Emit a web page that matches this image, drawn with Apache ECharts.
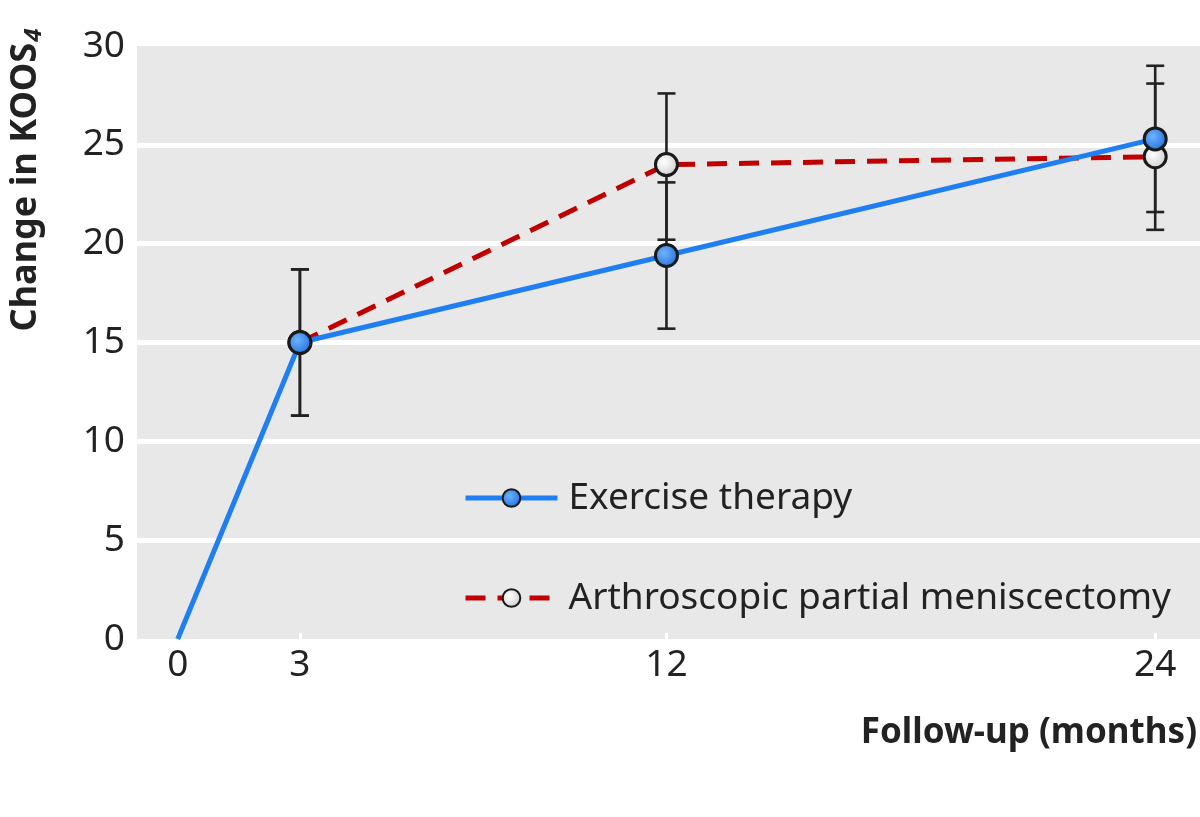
<!DOCTYPE html>
<html>
<head>
<meta charset="utf-8">
<script src="https://cdn.jsdelivr.net/npm/echarts@6/dist/echarts.min.js"></script>
<style>
  html, body { margin: 0; padding: 0; background: #fff; }
  #main { width: 1200px; height: 817px; }
</style>
</head>
<body>
<div id="main"></div>
<script>
// follow-up months and change in KOOS4
var months = [0, 3, 12, 24];
var exercise = [0, 15.0, 19.4, 25.3];
var exerciseLow = [null, 11.3, 15.7, 21.6];
var exerciseHigh = [null, 18.7, 23.1, 29.0];
var apm = [null, 15.0, 24.0, 24.4];
var apmLow = [null, 11.3, 20.2, 20.7];
var apmHigh = [null, 18.7, 27.6, 28.1];
var xTicks = [0, 3, 12, 24];

var FONT = '"Noto Sans", sans-serif';

function pts(vals) {
    var out = [];
    for (var i = 0; i < months.length; i++) {
        if (vals[i] === null) { out.push([months[i], null]); continue; }
        // no marker at the origin
        if (months[i] === 0) out.push({ value: [months[i], vals[i]], symbol: 'none' });
        else out.push([months[i], vals[i]]);
    }
    return out;
}
function bars(lo, hi) {
    var out = [];
    for (var i = 0; i < months.length; i++) {
        if (lo[i] !== null) out.push([months[i], lo[i], hi[i]]);
    }
    return out;
}
function renderBar(params, api) {
    var x = api.value(0);
    var top = api.coord([x, api.value(2)]);
    var bot = api.coord([x, api.value(1)]);
    var w = 9;
    var st = { stroke: '#222', lineWidth: 2.6, fill: null };
    return {
        type: 'group',
        children: [
            { type: 'line', shape: { x1: top[0], y1: top[1], x2: bot[0], y2: bot[1] }, style: st },
            { type: 'line', shape: { x1: top[0] - w, y1: top[1], x2: top[0] + w, y2: top[1] }, style: st },
            { type: 'line', shape: { x1: bot[0] - w, y1: bot[1], x2: bot[0] + w, y2: bot[1] }, style: st }
        ]
    };
}

var blueFill = new echarts.graphic.RadialGradient(0.4, 0.4, 0.7, [
    { offset: 0, color: '#6db4ff' }, { offset: 1, color: '#1a66d8' }
]);
var whiteFill = new echarts.graphic.RadialGradient(0.4, 0.4, 0.7, [
    { offset: 0, color: '#ffffff' }, { offset: 1, color: '#c8c8c8' }
]);

var chart = echarts.init(document.getElementById('main'));
chart.setOption({
    animation: false,
    grid: {
        left: 137, top: 46, right: 0, bottom: 178,
        show: true, backgroundColor: '#e8e8e8', borderWidth: 0
    },
    legend: {
        orient: 'vertical',
        left: 458, top: 471,
        itemWidth: 92, itemHeight: 22, itemGap: 56,
        lineStyle: { width: 5 },
        textStyle: { fontFamily: FONT, fontSize: 37, color: '#222', lineHeight: 44, padding: [0, 0, 0, 6] },
        data: ['Exercise therapy', 'Arthroscopic partial meniscectomy']
    },
    xAxis: {
        type: 'value', min: -1, max: 25.1,
        axisLine: { show: false },
        axisTick: { show: true, inside: true, length: 6, customValues: xTicks, lineStyle: { color: '#fff', width: 3 } },
        axisLabel: { customValues: xTicks, fontFamily: FONT, fontSize: 37, color: '#222', margin: 8 },
        splitLine: { show: false }
    },
    yAxis: {
        type: 'value', min: 0, max: 30, interval: 5,
        axisLine: { show: false },
        axisTick: { show: false },
        axisLabel: { fontFamily: FONT, fontSize: 37, color: '#222', margin: 12 },
        splitLine: { show: true, showMinLine: false, showMaxLine: false, lineStyle: { color: '#fff', width: 5 } }
    },
    graphic: [
        {
            type: 'text', x: 26, y: 180, rotation: Math.PI / 2,
            style: {
                text: '{a|Change in KOOS}{s|4}',
                align: 'center', verticalAlign: 'middle',
                rich: {
                    a: { fontFamily: FONT, fontSize: 36, fontWeight: 'bold', fill: '#222' },
                    s: { fontFamily: FONT, fontSize: 24, fontStyle: 'italic', fontWeight: 'bold', fill: '#222', padding: [16, 0, 0, 1] }
                }
            }
        },
        {
            type: 'text', right: 3, top: 716,
            style: { text: 'Follow-up (months)', fontFamily: FONT, fontSize: 35, fontWeight: 'bold', fill: '#222' }
        }
    ],
    series: [
        {
            type: 'custom', name: 'apmBars', z: 1, silent: true,
            renderItem: renderBar, data: bars(apmLow, apmHigh)
        },
        {
            type: 'custom', name: 'exBars', z: 1, silent: true,
            renderItem: renderBar, data: bars(exerciseLow, exerciseHigh)
        },
        {
            name: 'Arthroscopic partial meniscectomy',
            type: 'line', z: 3,
            data: pts(apm),
            symbol: 'circle', symbolSize: 22,
            lineStyle: { color: '#c00000', width: 5, type: [20, 12] },
            itemStyle: { color: whiteFill, borderColor: '#1a1a1a', borderWidth: 3 }
        },
        {
            name: 'Exercise therapy',
            type: 'line', z: 4,
            data: pts(exercise),
            symbol: 'circle', symbolSize: 22,
            lineStyle: { color: '#1f7ff2', width: 5 },
            itemStyle: { color: blueFill, borderColor: '#1a1a1a', borderWidth: 3 }
        }
    ]
});
</script>
</body>
</html>
